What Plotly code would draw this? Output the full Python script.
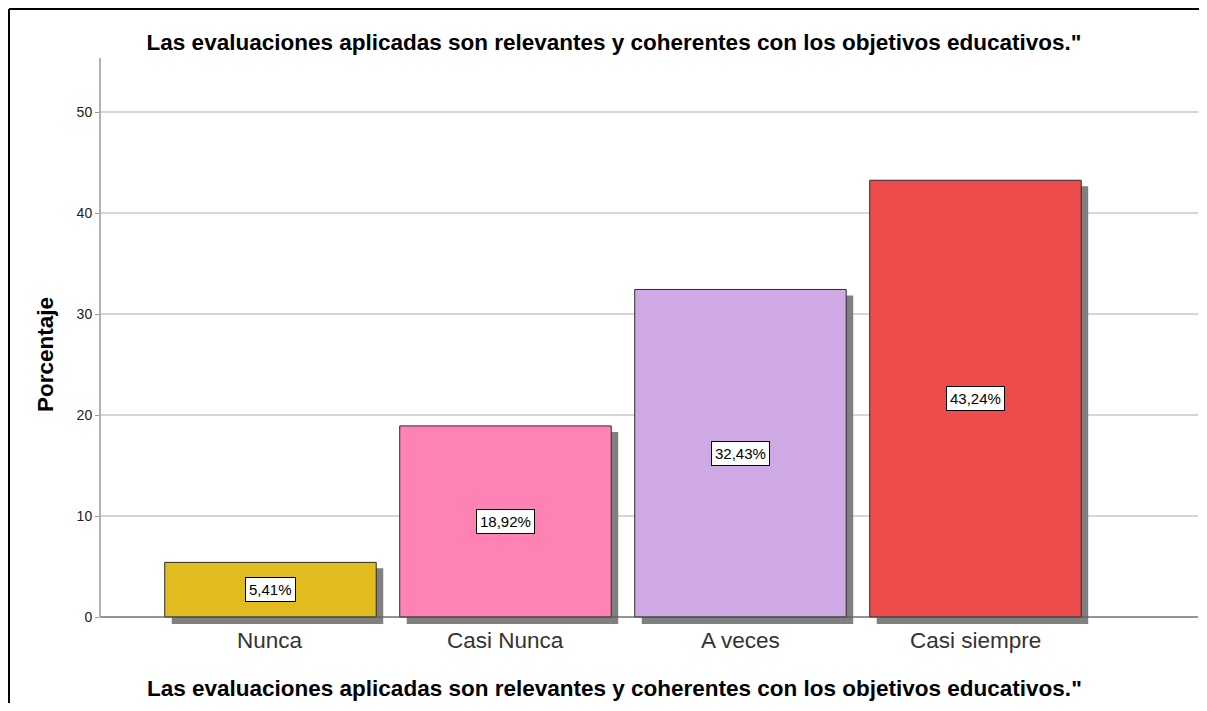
import plotly.graph_objects as go

categories = ["Nunca", "Casi Nunca", "A veces", "Casi siempre"]
values = [5.41, 18.92, 32.43, 43.24]
labels = ["5,41%", "18,92%", "32,43%", "43,24%"]
colors = ["#e1bc1f", "#fe83b4", "#cfa9e3", "#ee4b4d"]
y_ticks = [0, 10, 20, 30, 40, 50]
title_text = "Las evaluaciones aplicadas son relevantes y coherentes con los objetivos educativos.\""
y_title = "Porcentaje"

FONT = "Liberation Sans, Arial, sans-serif"
OFF = 8  # page body margin
W, H = 1199, 695
L, R, T, B = 92, 9, 50, 78
pw, ph = W - L - R, H - T - B
px_per_unit = 10.1
ymax = (609 - 50) / px_per_unit
ymin = -(617 - 609) / px_per_unit
unit_px = 235.0
xmin, xmax = -0.7255, 3.947

sh_dx = 7 / unit_px
sh_top = 6 / px_per_unit
sh_bot = -7 / px_per_unit

fig = go.Figure()
# shadows
fig.add_trace(go.Bar(
    x=list(range(len(categories))),
    y=[v - sh_top - sh_bot for v in values],
    base=[sh_bot] * len(values),
    width=0.9, offset=-0.45 + sh_dx,
    marker=dict(color="#808080", line=dict(width=0)),
    hoverinfo="skip", showlegend=False,
))
# bars
fig.add_trace(go.Bar(
    x=list(range(len(categories))),
    y=values,
    width=0.9,
    marker=dict(color=colors, line=dict(color="#2b2b2b", width=1)),
    showlegend=False,
))
fig.update_layout(barmode="overlay")

for i, (v, lab) in enumerate(zip(values, labels)):
    fig.add_annotation(
        x=i, y=v / 2, xref="x", yref="y", text=lab, showarrow=False,
        font=dict(family=FONT, size=15, color="black"),
        bgcolor="white", bordercolor="black", borderwidth=1, borderpad=3,
    )

# category labels
for i, c in enumerate(categories):
    fig.add_annotation(
        x=i, y=0, xref="x", yref="y", text=c, showarrow=False,
        yanchor="top", yshift=-9,
        font=dict(family=FONT, size=22.5, color="#333333"),
    )

plot_bottom = T + ph
# x-axis title
fig.add_annotation(
    x=(614 - OFF - L) / pw, y=(plot_bottom - (688 - OFF)) / ph, xref="paper", yref="paper",
    text="<b>" + title_text + "</b>", showarrow=False, xanchor="center", yanchor="middle",
    font=dict(family=FONT, size=22.5, color="black"),
)
# y-axis title
fig.add_annotation(
    x=(37 - L) / pw, y=1 - (355 - OFF - T) / ph, xref="paper", yref="paper",
    text="<b>" + y_title + "</b>", showarrow=False, textangle=-90,
    xanchor="center", yanchor="middle",
    font=dict(family=FONT, size=22.5, color="black"),
)

# axis lines
fig.add_shape(type="line", xref="paper", yref="y", x0=0, x1=1, y0=0, y1=0,
              line=dict(color="#555555", width=1), layer="above")
fig.add_shape(type="line", xref="paper", yref="paper", x0=0, x1=0,
              y0=(0 - ymin) / (ymax - ymin), y1=1,
              line=dict(color="#999999", width=1.5), layer="above")

# outer frame (left and top)
fx = (1 - L) / pw
fy = 1 + (T - 1) / ph
fig.add_shape(type="line", xref="paper", yref="paper", x0=fx, x1=fx, y0=-1, y1=fy,
              line=dict(color="black", width=2))
fig.add_shape(type="line", xref="paper", yref="paper", x0=fx, x1=1.5, y0=fy, y1=fy,
              line=dict(color="black", width=2))

fig.update_layout(
    width=W, height=H,
    margin=dict(l=L, r=R, t=T, b=B, autoexpand=False),
    paper_bgcolor="white", plot_bgcolor="white",
    title=dict(text="<b>" + title_text + "</b>", x=(614 - OFF) / W, xanchor="center",
               y=1 - 34 / H, yanchor="middle",
               font=dict(family=FONT, size=22.5, color="black")),
    xaxis=dict(
        range=[xmin, xmax], showgrid=False, zeroline=False, showline=False,
        showticklabels=False, ticks="", fixedrange=True,
    ),
    yaxis=dict(
        range=[ymin, ymax], tickvals=y_ticks,
        showgrid=True, gridcolor="#d6d6d6", gridwidth=1.5, zeroline=False, showline=False,
        ticks="outside", ticklen=4, tickcolor="#999999",
        tickfont=dict(family=FONT, size=14, color="#222222"),
    ),
)

fig.write_html("out.html")
